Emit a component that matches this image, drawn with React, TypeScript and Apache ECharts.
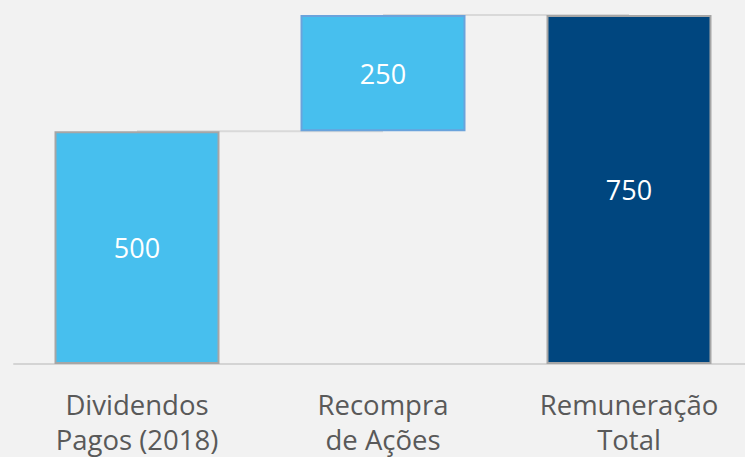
import React, { useEffect, useRef } from "react";
import * as echarts from "echarts";

const categories = ["Dividendos\nPagos (2018)", "Recompra\nde Ações", "Remuneração\nTotal"];
const baseValues = [0, 500, 0];
const barValues = [500, 250, 750];
const connector1 = [500, 500, null];
const connector2 = [null, 750, 750];
const barColors = ["#47bfee", "#47bfee", "#00467f"];
const borderColors = ["#a6a6a6", "#6aa3dc", "#a6a6a6"];

export default function App() {
  const ref = useRef<HTMLDivElement>(null);
  useEffect(() => {
    if (!ref.current) return;
    const chart = echarts.init(ref.current, undefined, { renderer: "svg" });
    chart.setOption({
      animation: false,
      backgroundColor: "#f2f2f2",
      textStyle: { fontFamily: "Open Sans" },
      grid: { left: 14, right: 0, top: 15, height: 349, containLabel: false },
      xAxis: {
        type: "category",
        data: categories,
        axisTick: { show: false },
        axisLine: { lineStyle: { color: "#d4d4d4", width: 2 } },
        axisLabel: {
          color: "#595959",
          fontSize: 27.5,
          lineHeight: 35,
          margin: 23,
          fontFamily: "Open Sans",
        },
      },
      yAxis: { type: "value", min: 0, max: 750, show: false, splitLine: { show: false } },
      series: [
        {
          type: "line",
          data: connector1,
          symbol: "none",
          z: 1,
          lineStyle: { color: "#d9d9d9", width: 2 },
        },
        {
          type: "line",
          data: connector2,
          symbol: "none",
          z: 1,
          lineStyle: { color: "#d9d9d9", width: 2 },
        },
        {
          type: "bar",
          stack: "w",
          data: baseValues,
          barWidth: 165,
          z: 2,
          itemStyle: { color: "transparent" },
          silent: true,
        },
        {
          type: "bar",
          stack: "w",
          barWidth: 165,
          z: 3,
          data: barValues.map((v, i) => ({
            value: v,
            itemStyle: { color: barColors[i], borderColor: borderColors[i], borderWidth: 2 },
          })),
          label: {
            show: true,
            position: "inside",
            color: "#ffffff",
            fontSize: 27,
            fontFamily: "Open Sans",
          },
        },
      ],
    });
    return () => chart.dispose();
  }, []);
  return (
    <div
      style={{
        position: "fixed",
        left: 0,
        top: 0,
        width: 745,
        height: 457,
        overflow: "hidden",
        background: "#f2f2f2",
      }}
    >
      <div ref={ref} style={{ width: 752, height: 457 }} />
    </div>
  );
}
